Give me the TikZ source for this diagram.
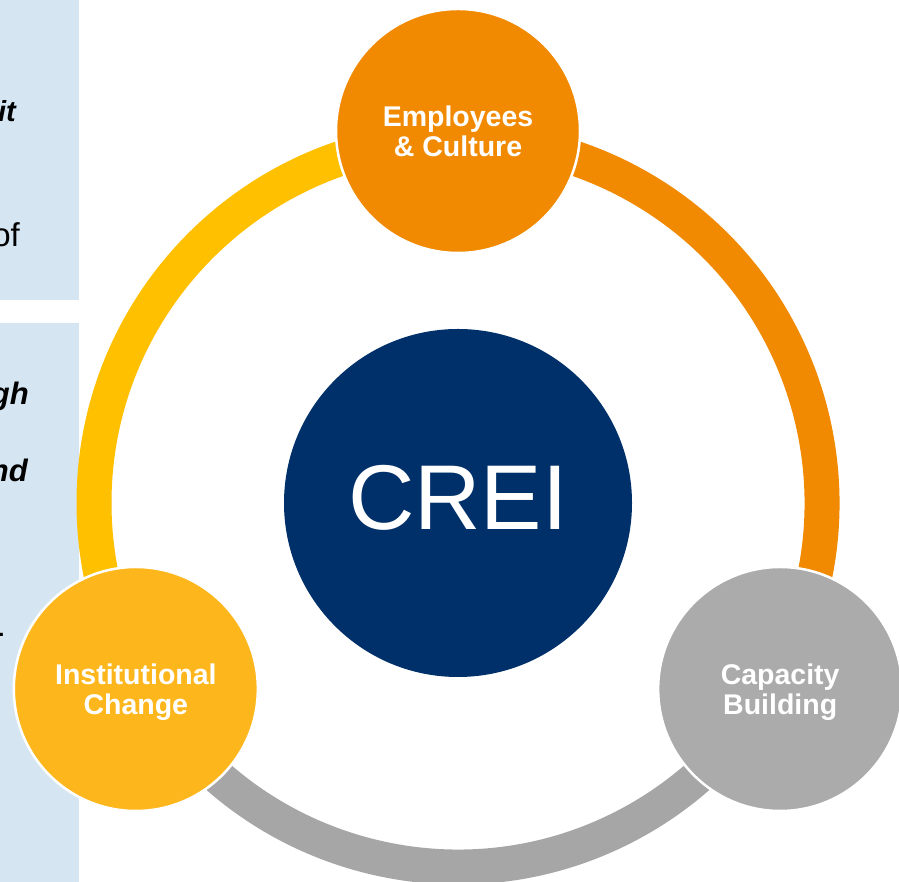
\documentclass[tikz,border=0pt]{standalone}
\usepackage{fontspec}
\setmainfont{Liberation Sans}
\usetikzlibrary{calc}
\definecolor{panelblue}{HTML}{D5E6F2}
\definecolor{creiblue}{HTML}{003069}
\definecolor{orng}{HTML}{F18A00}
\definecolor{yel}{HTML}{FFC000}
\definecolor{instyel}{HTML}{FDB71C}
\definecolor{ringgray}{HTML}{A6A6A6}
\definecolor{capgray}{HTML}{ABABAB}
\begin{document}
\begin{tikzpicture}[x=1pt,y=1pt,
  sat/.style={circle, draw=white, line width=2.5pt, minimum size=244pt, inner sep=0pt,
    text=white, align=center, text depth=0pt, font=\bfseries\fontsize{28.5}{30}\selectfont},
  ringseg/.style={line width=35pt},
  frag/.style={anchor=base east, inner sep=0pt, text=black},
]
\useasboundingbox (0,0) rectangle (899,882);
\clip (0,0) rectangle (899,882);
\fill[white] (0,0) rectangle (899,882);
% left panels
\fill[panelblue] (0,582) rectangle (79,882);
\fill[panelblue] (0,0) rectangle (79,559);
% cut-off text fragments
\node[frag, font=\bfseries\itshape\fontsize{29}{34}\selectfont] (f1) at (16,760) {it};
\node[frag, font=\fontsize{33}{38}\selectfont] (f2) at (20,635) {of};
\node[frag, font=\bfseries\itshape\fontsize{31}{36}\selectfont] (f3) at (29,477) {gh};
\node[frag, font=\bfseries\itshape\fontsize{31}{36}\selectfont] (f4) at (28,400) {nd};
\node[frag, font=\fontsize{30}{34}\selectfont] (f5) at (6,245) {.};
% ring
\coordinate (c) at (458,379);
\coordinate (a90) at ($(c)+(90:364)$);
\coordinate (a210) at ($(c)+(210:364)$);
\coordinate (am30) at ($(c)+(-30:364)$);
\draw[ringseg, yel] (a90) arc[start angle=90, end angle=210, radius=364];
\draw[ringseg, orng] (am30) arc[start angle=-30, end angle=90, radius=364];
\draw[ringseg, ringgray] (a210) arc[start angle=210, end angle=330, radius=364];
% centre
\node[circle, fill=creiblue, minimum size=348pt, inner sep=0pt] (crei) at (c) {};
\node[text=white, inner sep=0pt, font=\fontsize{92}{92}\selectfont] (creilabel) at (458,384) {CREI};
% satellites
\node[sat, fill=orng] (emp) at ($(c)+(90:372)$) {Employees\\\& Culture};
\node[sat, fill=capgray] (cap) at ($(c)+(-30:372)$) {Capacity\\Building};
\node[sat, fill=instyel] (inst) at ($(c)+(210:372)$) {Institutional\\Change};
\end{tikzpicture}
\end{document}
